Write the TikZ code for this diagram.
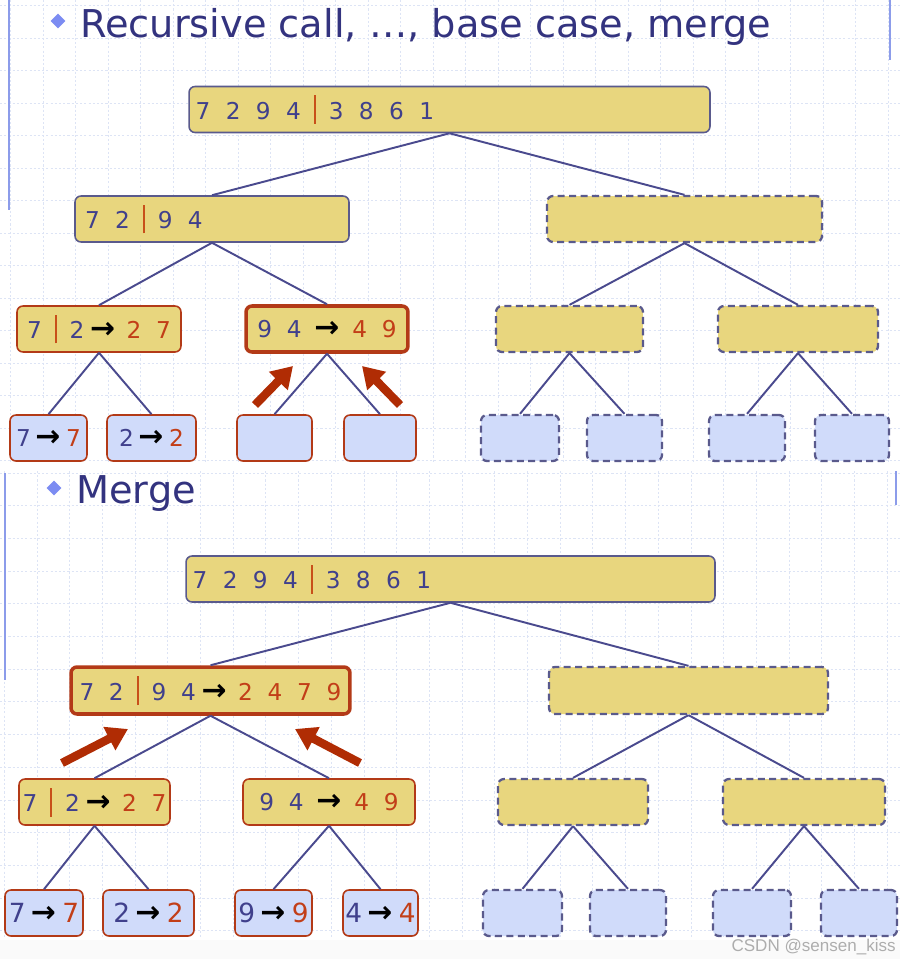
\documentclass[tikz,border=0pt]{standalone}
\usepackage{fontspec}
\setmainfont{DejaVu Sans}
\newfontfamily\markfont{Liberation Sans}
\usetikzlibrary{arrows.meta,shapes.geometric}

\definecolor{boxyellow}{HTML}{E8D67E}
\definecolor{leafblue}{HTML}{D0DBFA}
\definecolor{boxline}{HTML}{5A5A8C}
\definecolor{hotred}{HTML}{B33A17}
\definecolor{pushred}{HTML}{B02C04}
\definecolor{numblue}{HTML}{40408C}
\definecolor{numred}{HTML}{C23E18}
\definecolor{cutred}{HTML}{C8501A}
\definecolor{linkblue}{HTML}{4A4A8E}
\definecolor{titleblue}{HTML}{33337F}
\definecolor{bulletblue}{HTML}{7C8CF2}
\definecolor{sideblue}{HTML}{8C9CEA}
\definecolor{gridblue}{HTML}{DDE4F5}

\newcommand{\bnum}[1]{\textcolor{numblue}{#1}}
\newcommand{\rnum}[1]{\textcolor{numred}{#1}}
\newcommand{\cut}{\hspace{0.55em}\textcolor{cutred}{\rule[-0.2em]{1.3pt}{1.25em}}\hspace{0.55em}}
\newcommand{\goes}{\hspace{0.25em}{\fontsize{17}{17}\selectfont\bfseries →}\hspace{0.5em}}
\newcommand{\tgoes}{\hspace{0.2em}{\fontsize{17}{17}\selectfont\bfseries →}\hspace{0.25em}}
\newcommand{\wgoes}{\hspace{0.55em}{\fontsize{17}{17}\selectfont\bfseries →}\hspace{0.55em}}

\tikzset{
  sortbox/.style={draw=boxline, line width=0.9pt, fill=boxyellow, rounded corners=0.12cm,
    inner sep=0pt, minimum height=0.92cm, font=\fontsize{13.2}{16}\selectfont},
  hotbox/.style={sortbox, draw=hotred, line width=2pt},
  donebox/.style={sortbox, draw=hotred},
  waitbox/.style={sortbox, dash pattern=on 4pt off 2.5pt, line width=1.3pt},
  leafbox/.style={donebox, fill=leafblue},
  waitleaf/.style={waitbox, fill=leafblue},
  link/.style={draw=linkblue, line width=1.1pt},
  push/.style={draw=pushred, line width=4.8pt, -{Triangle[length=0.42cm,width=0.5cm]}},
  dotgrid/.style={draw=gridblue, line width=0.5pt, dash pattern=on 1.2pt off 1.2pt},
  side/.style={draw=sideblue, line width=1.2pt},
  heading/.style={anchor=base west, inner sep=0pt, text=titleblue, font=\fontsize{21.8}{26}\selectfont},
  bullet/.style={diamond, fill=bulletblue, inner sep=0pt, minimum size=0.3cm}
}

\begin{document}
\begin{tikzpicture}[x=0.02cm, y=-0.02cm]
\useasboundingbox (0,0) rectangle (900,959);
\fill[white] (0,0) rectangle (900,959);
\fill[black!2] (0,940) rectangle (900,959);

\foreach \gx in {10.5,43,...,895} \draw[dotgrid] (\gx,0) -- (\gx,462);
\foreach \gy in {5.5,38,...,462} \draw[dotgrid] (0,\gy) -- (900,\gy);
\foreach \gx in {4.3,37,...,898} \draw[dotgrid] (\gx,471) -- (\gx,938);
\foreach \gy in {473,505.7,...,938} \draw[dotgrid] (0,\gy) -- (900,\gy);

\draw[side] (9,0) -- (9,210);
\draw[side] (890,0) -- (890,60);
\draw[side] (5,473) -- (5,680);
\draw[side] (896,471) -- (896,505);

\node[bullet] (dot1) at (58,21) {};
\node[heading] (head1) at (80,38) {Recursive call, …, base case, merge};
\node[bullet] (dot2) at (54,488) {};
\node[heading] (head2) at (76,503) {Merge};

% recursive call
\node[sortbox, minimum width=10.42cm, text width=10.16cm, inner xsep=0.13cm, align=left] (r1) at (449.5,109.5) {\bnum{7~~2~~9~~4}\cut\bnum{3~~8~~6~~1}};
\node[sortbox, minimum width=5.48cm, text width=5.08cm, inner xsep=0.2cm, align=left] (l1) at (212,219) {\bnum{7~~2}\cut\bnum{9~~4}};
\node[waitbox, minimum width=5.5cm] (m1) at (684.5,219) {};
\node[donebox, minimum width=3.28cm] (a1) at (99,329) {\bnum{7}\cut\bnum{2}\goes\rnum{2~~7}};
\node[hotbox, minimum width=3.24cm] (b1) at (327,329) {\bnum{9~~4}\wgoes\rnum{4~~9}};
\node[waitbox, minimum width=2.94cm] (c1) at (569.5,329) {};
\node[waitbox, minimum width=3.2cm] (d1) at (798,329) {};
\node[leafbox, minimum width=1.54cm] (p1) at (48.5,438) {\bnum{7}\tgoes\rnum{7}};
\node[leafbox, minimum width=1.78cm] (q1) at (151.5,438) {\bnum{2}\tgoes\rnum{2}};
\node[leafbox, minimum width=1.5cm] (s1) at (274.5,438) {};
\node[leafbox, minimum width=1.44cm] (t1) at (380,438) {};
\node[waitleaf, minimum width=1.56cm] (u1) at (520,438) {};
\node[waitleaf, minimum width=1.5cm] (v1) at (624.5,438) {};
\node[waitleaf, minimum width=1.52cm] (w1) at (747,438) {};
\node[waitleaf, minimum width=1.48cm] (z1) at (852,438) {};

\draw[link] (r1.south) -- (l1.north);
\draw[link] (r1.south) -- (m1.north);
\draw[link] (l1.south) -- (a1.north);
\draw[link] (l1.south) -- (b1.north);
\draw[link] (m1.south) -- (c1.north);
\draw[link] (m1.south) -- (d1.north);
\draw[link] (a1.south) -- (p1.north);
\draw[link] (a1.south) -- (q1.north);
\draw[link] (b1.south) -- (s1.north);
\draw[link] (b1.south) -- (t1.north);
\draw[link] (c1.south) -- (u1.north);
\draw[link] (c1.south) -- (v1.north);
\draw[link] (d1.south) -- (w1.north);
\draw[link] (d1.south) -- (z1.north);

\coordinate (k1) at (255,405);
\coordinate (k1t) at (293,366);
\coordinate (k2) at (400,405);
\coordinate (k2t) at (362,366);
\draw[push] (k1) -- (k1t);
\draw[push] (k2) -- (k2t);

% merge
\node[sortbox, minimum width=10.58cm, text width=10.32cm, inner xsep=0.13cm, align=left] (r2) at (450.5,579) {\bnum{7~~2~~9~~4}\cut\bnum{3~~8~~6~~1}};
\node[hotbox, minimum width=5.58cm, minimum height=0.94cm] (l2) at (210.5,690.5) {\bnum{7~~2}\cut\bnum{9~~4}\goes\rnum{2~~4~~7~~9}};
\node[waitbox, minimum width=5.58cm, minimum height=0.94cm] (m2) at (688.5,690.5) {};
\node[donebox, minimum width=3.02cm] (a2) at (94.5,802) {\bnum{7}\cut\bnum{2}\goes\rnum{2~~7}};
\node[donebox, minimum width=3.44cm] (b2) at (329,802) {\bnum{9~~4}\wgoes\rnum{4~~9}};
\node[waitbox, minimum width=3cm] (c2) at (573,802) {};
\node[waitbox, minimum width=3.24cm] (d2) at (804,802) {};
\node[leafbox, minimum width=1.56cm, font=\fontsize{15}{18}\selectfont] (p2) at (44,913) {\bnum{7}\tgoes\rnum{7}};
\node[leafbox, minimum width=1.82cm, font=\fontsize{15}{18}\selectfont] (q2) at (148.5,913) {\bnum{2}\tgoes\rnum{2}};
\node[leafbox, minimum width=1.54cm, font=\fontsize{15}{18}\selectfont] (s2) at (273.5,913) {\bnum{9}\tgoes\rnum{9}};
\node[leafbox, minimum width=1.5cm, font=\fontsize{15}{18}\selectfont] (t2) at (380.5,913) {\bnum{4}\tgoes\rnum{4}};
\node[waitleaf, minimum width=1.58cm] (u2) at (522.5,913) {};
\node[waitleaf, minimum width=1.52cm] (v2) at (628,913) {};
\node[waitleaf, minimum width=1.56cm] (w2) at (752,913) {};
\node[waitleaf, minimum width=1.52cm] (z2) at (859,913) {};

\draw[link] (r2.south) -- (l2.north);
\draw[link] (r2.south) -- (m2.north);
\draw[link] (l2.south) -- (a2.north);
\draw[link] (l2.south) -- (b2.north);
\draw[link] (m2.south) -- (c2.north);
\draw[link] (m2.south) -- (d2.north);
\draw[link] (a2.south) -- (p2.north);
\draw[link] (a2.south) -- (q2.north);
\draw[link] (b2.south) -- (s2.north);
\draw[link] (b2.south) -- (t2.north);
\draw[link] (c2.south) -- (u2.north);
\draw[link] (c2.south) -- (v2.north);
\draw[link] (d2.south) -- (w2.north);
\draw[link] (d2.south) -- (z2.north);

\coordinate (k3) at (62,763);
\coordinate (k3t) at (128,729);
\coordinate (k4) at (360,763);
\coordinate (k4t) at (295,729);
\draw[push] (k3) -- (k3t);
\draw[push] (k4) -- (k4t);

\node[anchor=base east, inner sep=0pt, text=black!32, font=\markfont\fontsize{9.7}{11}\selectfont] (mark) at (896,951) {CSDN @sensen\_kiss};
\end{tikzpicture}
\end{document}
